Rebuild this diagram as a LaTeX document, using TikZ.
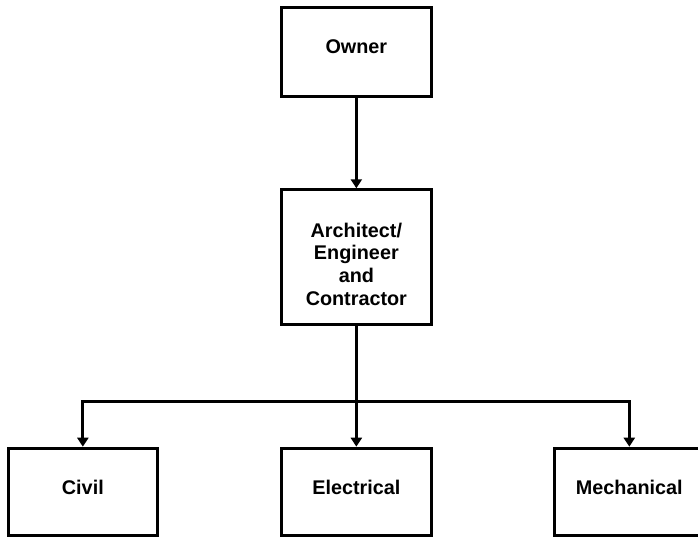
\documentclass[tikz,border=0pt]{standalone}
\usepackage{fontspec}
\setmainfont{Liberation Sans}
\usetikzlibrary{arrows.meta}
% set a label with zero height and depth, baseline raised by #1
\newcommand{\boxlabel}[2]{\raisebox{#1}[0pt][0pt]{#2}}
\begin{document}
\begin{tikzpicture}[x=1pt,y=-1pt,
  box/.style={draw, line width=3pt, rectangle, inner sep=0pt,
    minimum width=149.7pt, align=center,
    font=\fontsize{19.8pt}{22.7pt}\selectfont\bfseries},
  link/.style={line width=3pt},
  arrowlink/.style={link, -{Triangle[width=11pt,length=9pt]}}]
  \useasboundingbox (0,0) rectangle (698,538);
  \fill[white] (0,0) rectangle (698,538);

  % top of the hierarchy
  \node[box, minimum height=88.7pt] (owner) at (356.35,51.85) {\boxlabel{-2pt}{Owner}};
  \node[box, minimum height=134.4pt] (arch) at (356.35,257)
    {\boxlabel{19.9pt}{\parbox[t]{140pt}{\centering Architect/\\Engineer\\and\\Contractor}}};

  % trades
  \node[box, minimum width=149.3pt, minimum height=87.3pt] (civil) at (82.85,491.85) {\boxlabel{-2.8pt}{Civil}};
  \node[box, minimum height=87.3pt] (elec) at (356.35,491.85) {\boxlabel{-2.8pt}{Electrical}};
  \node[box, minimum height=87.3pt] (mech) at (629.3,491.85) {\boxlabel{-2.8pt}{Mechanical}};

  % connectors
  \coordinate (bus) at (356.35,401.7);
  \draw[arrowlink] (owner.south) -- (arch.north);
  \draw[link] (arch.south) -- (bus);
  \draw[arrowlink] (bus) -- (elec.north);
  \draw[arrowlink] (bus) -| (civil.north);
  \draw[arrowlink] (bus) -| (mech.north);
\end{tikzpicture}
\end{document}
